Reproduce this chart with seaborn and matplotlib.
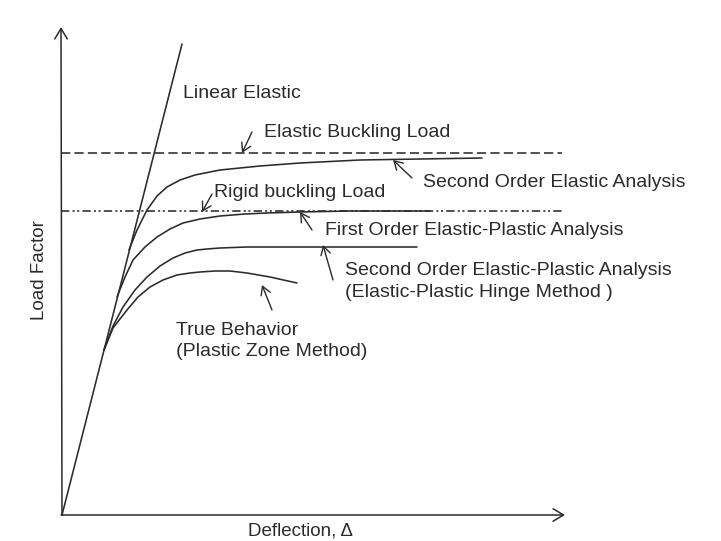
import pandas as pd
import matplotlib.pyplot as plt
import seaborn as sns

# ### Values (pixel-like units, y grows downwards)
origin = (62, 515)
y_axis_top = 27
x_axis_end = 565

linear_x = [62, 182]
linear_y = [515, 44]

elastic_buckling_y = 153
rigid_buckling_y = 211
guide_x = [61, 562]

second_order_elastic_x = [129, 137, 147, 157, 167, 180, 195, 220, 260, 300, 360, 420, 482]
second_order_elastic_y = [250, 230, 210, 196, 187, 180, 175, 170, 166, 163, 160, 159, 158]

first_order_ep_x = [117, 125, 133, 145, 157, 170, 183, 200, 220, 245, 267, 300, 350, 430]
first_order_ep_y = [297, 277, 260, 247, 237, 229, 223, 219, 216, 214, 213, 212, 211, 211]

second_order_ep_x = [104, 113, 123, 135, 147, 160, 173, 185, 197, 207, 220, 247, 300, 417]
second_order_ep_y = [350, 326, 307, 290, 277, 266, 258, 253, 250, 249, 248, 247, 247, 247]

true_behavior_x = [104, 113, 127, 138, 150, 163, 177, 190, 200, 215, 230, 247, 270, 297]
true_behavior_y = [350, 328, 310, 297, 287, 280, 275, 273, 272, 271, 271, 273, 277, 283]

# label text, (x, baseline y), arrow (tail, head)
labels = ["Linear Elastic", "Elastic Buckling Load", "Rigid buckling Load",
          "Second Order Elastic Analysis", "First Order Elastic-Plastic Analysis",
          "Second Order Elastic-Plastic Analysis", "(Elastic-Plastic Hinge Method )",
          "True Behavior", "(Plastic Zone Method)"]
label_x = [183, 264, 214, 423, 325, 345, 345, 176, 176]
label_y = [98, 137, 197, 187, 235, 275, 297, 335, 356]

arrow_tail = [(252, 132), (212, 194), (412, 178), (312, 230), (333, 280), (272, 310)]
arrow_head = [(242, 153), (202, 212), (393, 160), (300, 212), (323, 245), (262, 285)]

ink = "#2b2b2b"

sns.set_style("white")
plt.rcParams['font.family'] = ['Liberation Sans', 'DejaVu Sans']

fig = plt.figure(figsize=(7.21, 5.41), dpi=100)
ax = fig.add_axes([0, 0, 1, 1])

# curves
curves = {
    "second_order_elastic": (second_order_elastic_x, second_order_elastic_y),
    "first_order_ep": (first_order_ep_x, first_order_ep_y),
    "second_order_ep": (second_order_ep_x, second_order_ep_y),
    "true_behavior": (true_behavior_x, true_behavior_y),
    "linear": (linear_x, linear_y),
}
for name, (cx, cy) in curves.items():
    df = pd.DataFrame({"x": cx, "y": cy})
    sns.lineplot(data=df, x="x", y="y", ax=ax, color=ink, lw=1.15,
                 sort=False, estimator=None)

# buckling load guides
ax.plot(guide_x, [elastic_buckling_y] * 2, color=ink, lw=1.15,
        dashes=(5.8, 2.6))
ax.plot(guide_x, [rigid_buckling_y] * 2, color=ink, lw=1.15,
        dashes=(5.2, 2.0, 1.3, 1.6, 1.3, 2.0))

# axes with open arrow heads
ax.annotate("", xy=(origin[0] - 1, y_axis_top), xytext=origin,
            arrowprops=dict(arrowstyle="->,head_length=0.75,head_width=0.45",
                            color=ink, lw=1.1, shrinkA=0, shrinkB=0))
ax.annotate("", xy=(x_axis_end, origin[1]), xytext=(origin[0] - 1, origin[1]),
            arrowprops=dict(arrowstyle="->,head_length=0.75,head_width=0.45",
                            color=ink, lw=1.1, shrinkA=0, shrinkB=0))

# labels and pointer arrows
for txt, lx, ly in zip(labels, label_x, label_y):
    ax.text(lx, ly, txt, fontsize=14, color=ink, va="baseline", ha="left")
for tail, head in zip(arrow_tail, arrow_head):
    ax.annotate("", xy=head, xytext=tail,
                arrowprops=dict(arrowstyle="->,head_length=0.6,head_width=0.35",
                                color=ink, lw=1.0, shrinkA=0, shrinkB=0))

ax.text(40, 270, "Load Factor", fontsize=13.5, color=ink, rotation=90,
        ha="center", va="center")
ax.text(300, 540, "Deflection, Δ", fontsize=13.5, color=ink,
        ha="center", va="bottom")

ax.set(xlim=(0, 721), ylim=(541, 0), xlabel="", ylabel="")
ax.axis("off")

fig.savefig("out.png", dpi=100, facecolor="white")
